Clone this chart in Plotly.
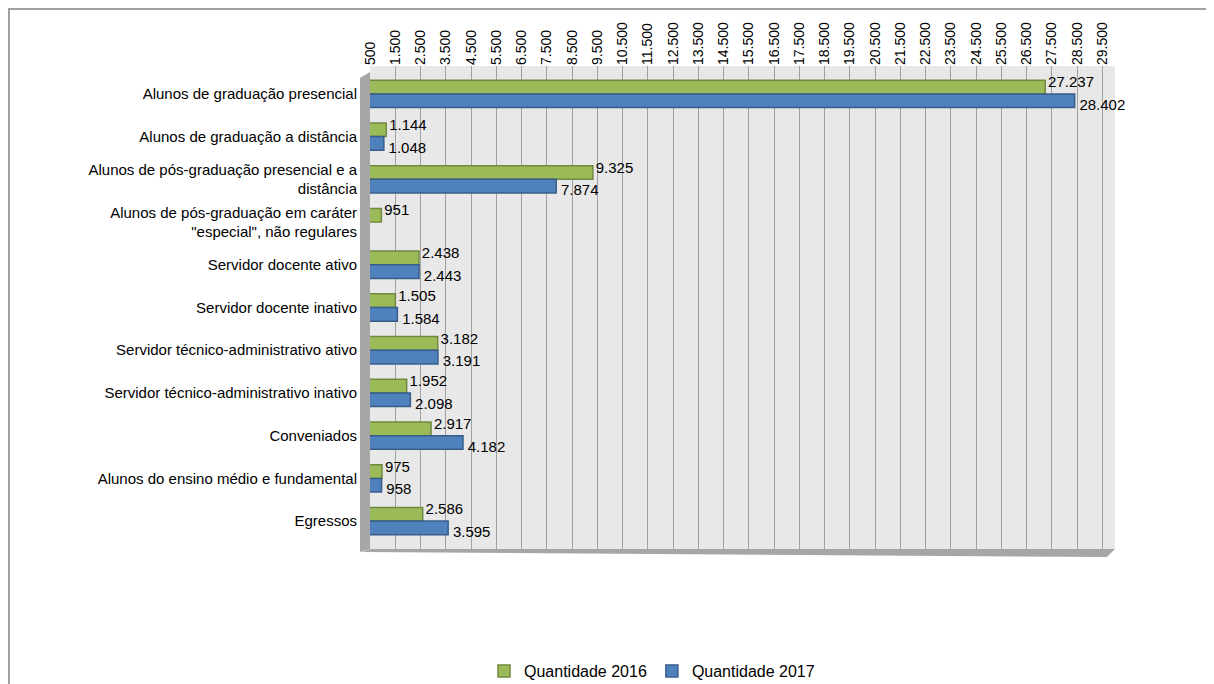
import plotly.graph_objects as go

categories = [
    "Alunos de graduação presencial",
    "Alunos de graduação a distância",
    "Alunos de pós-graduação presencial e a<br>distância",
    "Alunos de pós-graduação em caráter<br>\"especial\", não regulares",
    "Servidor docente ativo",
    "Servidor docente inativo",
    "Servidor técnico-administrativo ativo",
    "Servidor técnico-administrativo inativo",
    "Conveniados",
    "Alunos do ensino médio e fundamental",
    "Egressos",
]
qtd_2016 = [27237, 1144, 9325, 951, 2438, 1505, 3182, 1952, 2917, 975, 2586]
qtd_2017 = [28402, 1048, 7874, None, 2443, 1584, 3191, 2098, 4182, 958, 3595]
tick_vals = list(range(500, 30000, 1000))

# page body has an 8px margin, so the figure is a bit smaller than the window
W, H = 1206, 676
L, R, T, B = 362, 99, 58, 135
pw, ph = W - L - R, H - T - B

def px(x):
    return (x - L) / pw

def py(y):
    return (H - B - y) / ph

FONT = "Liberation Sans, Arial, sans-serif"

fig = go.Figure()
fig.add_trace(go.Bar(
    name="Quantidade 2016", y=categories, x=qtd_2016, orientation="h",
    marker=dict(color="#9bbb59", line=dict(color="#71893f", width=1.5)),
))
fig.add_trace(go.Bar(
    name="Quantidade 2017", y=categories, x=qtd_2017, orientation="h",
    marker=dict(color="#4f81bd", line=dict(color="#385d8a", width=1.5)),
))
# data labels: 2016 just above the category centre (beside the green bar),
# 2017 just below it (beside the blue bar); invisible markers give the padding
fig.add_trace(go.Scatter(
    x=qtd_2016, y=categories, mode="markers+text", text=qtd_2016, texttemplate="%{x:,d}",
    marker=dict(size=3, opacity=0),
    textposition="top right", textfont=dict(family=FONT, size=15, color="#000000"),
    showlegend=False, hoverinfo="skip", cliponaxis=False,
))
fig.add_trace(go.Scatter(
    x=qtd_2017, y=categories, mode="markers+text", text=qtd_2017, texttemplate="%{x:,d}",
    marker=dict(size=6, opacity=0),
    textposition="bottom right", textfont=dict(family=FONT, size=15, color="#000000"),
    showlegend=False, hoverinfo="skip", cliponaxis=False,
))

shapes = [
    # page frame
    dict(type="line", xref="paper", yref="paper", x0=px(0), x1=px(W + 5), y0=py(1), y1=py(1),
         line=dict(color="#a0a0a0", width=2), layer="above"),
    dict(type="line", xref="paper", yref="paper", x0=px(1), x1=px(1), y0=py(0), y1=py(H + 5),
         line=dict(color="#a0a0a0", width=2), layer="above"),
    # left wall
    dict(type="path", xref="paper", yref="paper",
         path=f"M {px(L - 10)} {py(T + 12)} L {px(L)} {py(T + 6)} L {px(L)} {py(H - B)} "
              f"L {px(L - 10)} {py(H - B + 3)} Z",
         fillcolor="#a6a6a6", line=dict(width=0), layer="below"),
    # floor
    dict(type="path", xref="paper", yref="paper",
         path=f"M {px(L)} {py(H - B)} L {px(W - R)} {py(H - B)} L {px(W - R - 8)} {py(H - B + 8)} "
              f"L {px(L - 8)} {py(H - B + 3)} Z",
         fillcolor="#a6a6a6", line=dict(width=0), layer="below"),
]

fig.update_layout(
    width=W, height=H,
    margin=dict(l=L, r=R, t=T, b=B, autoexpand=False),
    paper_bgcolor="#ffffff",
    plot_bgcolor="#e8e8e8",
    separators=",.",
    barmode="group",
    bargap=0.36,
    bargroupgap=0.0,
    font=dict(family=FONT, size=15, color="#000000"),
    showlegend=True,
    legend=dict(orientation="h", x=px(644), xanchor="center", y=py(663), yanchor="middle",
                font=dict(family=FONT, size=16), itemwidth=30, traceorder="normal"),
    shapes=shapes,
    xaxis=dict(
        range=[500, 30000], side="top", tickvals=tick_vals, tickformat=",d",
        tickangle=-90, tickfont=dict(family=FONT, size=14), showgrid=True, gridcolor="#a0a0a0",
        gridwidth=1.2, zeroline=False, showline=False, ticks="", automargin=False,
    ),
    yaxis=dict(
        autorange="reversed", showgrid=False, zeroline=False, showline=False,
        ticks="", ticklabelstandoff=12, tickfont=dict(family=FONT, size=15), automargin=False,
    ),
)

fig.write_html("out.html")
